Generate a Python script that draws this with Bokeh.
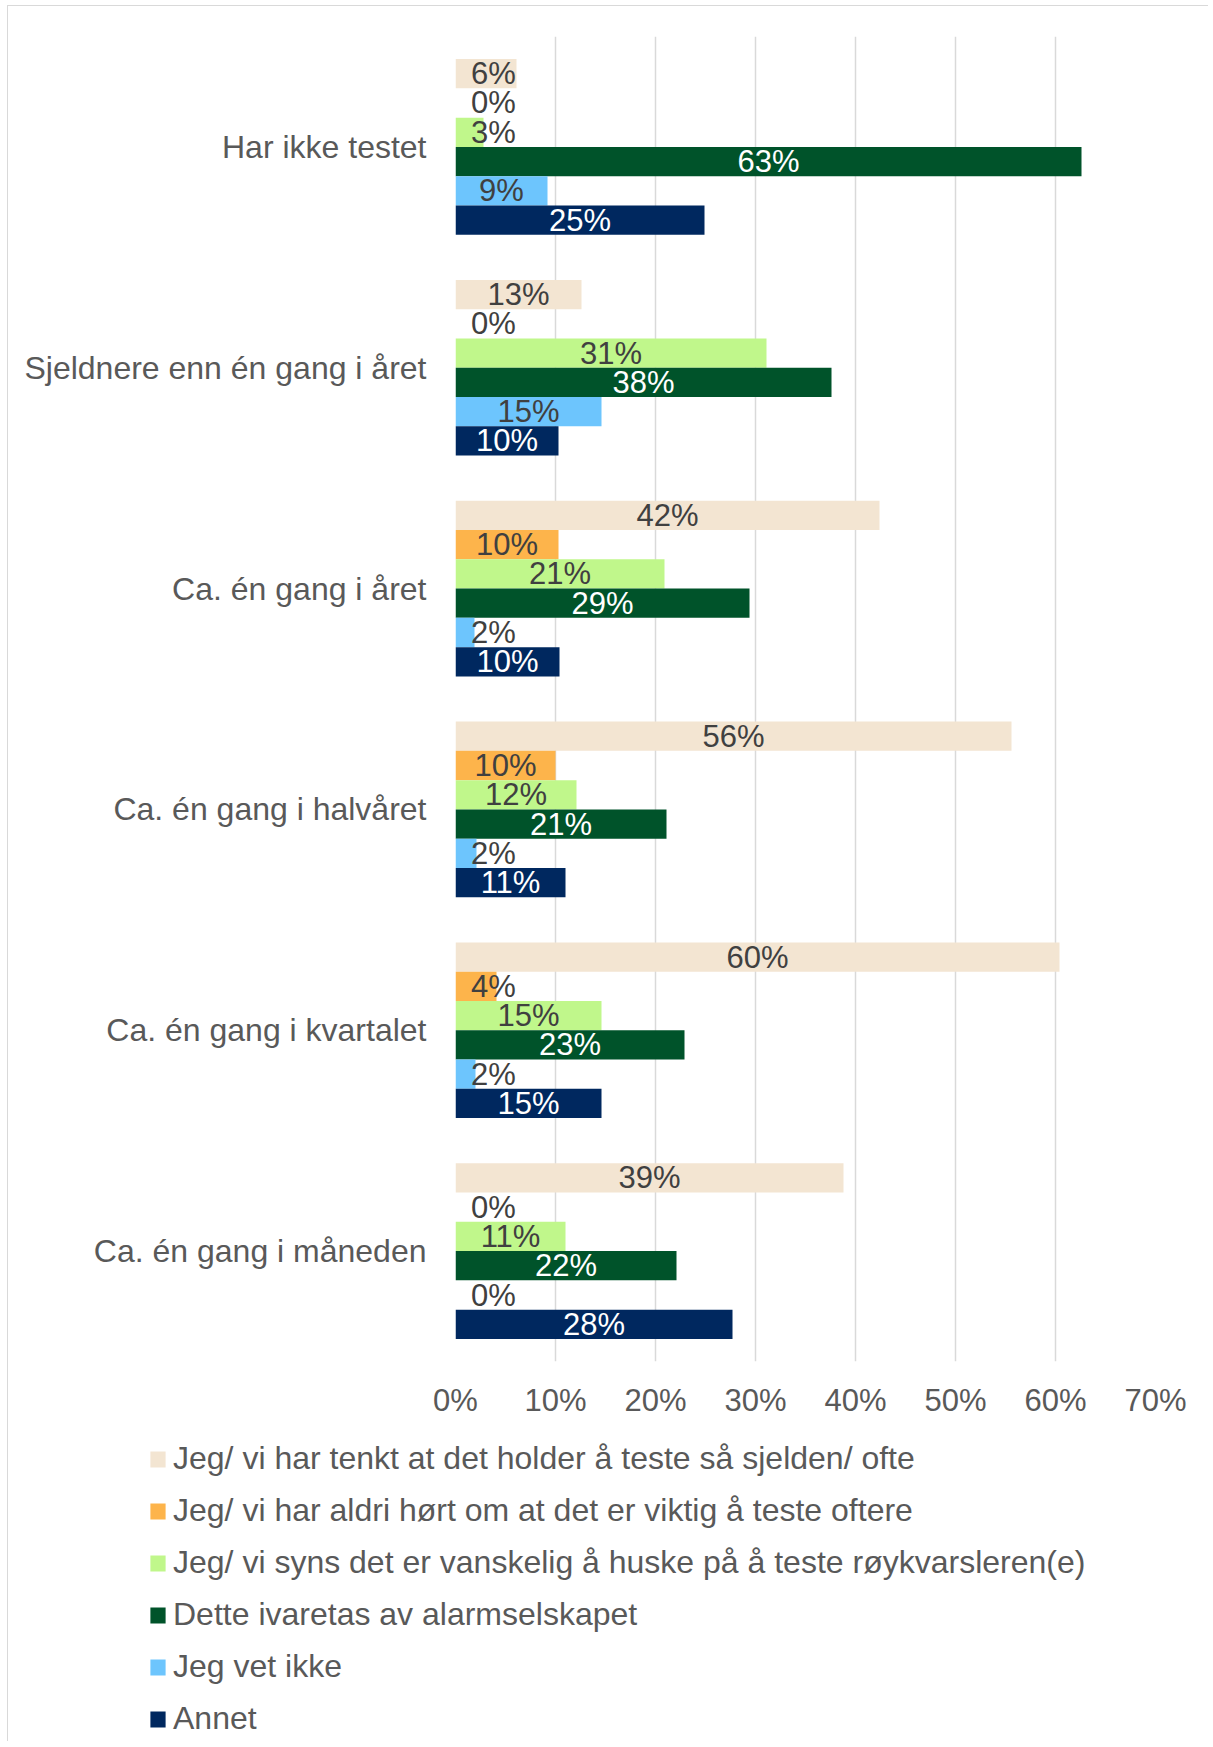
from bokeh.plotting import figure
from bokeh.layouts import column
from bokeh.models import (Range1d, FactorRange, ColumnDataSource, Legend, LegendItem,
                          FixedTicker, NumeralTickFormatter)
from bokeh.transform import dodge
from bokeh.embed import file_html
from bokeh.resources import INLINE
from bokeh.core.properties import value

# ---------------- data ----------------
categories = ["Har ikke testet", "Sjeldnere enn én gang i året", "Ca. én gang i året",
              "Ca. én gang i halvåret", "Ca. én gang i kvartalet", "Ca. én gang i måneden"]

series_names = [
    "Jeg/ vi har tenkt at det holder å teste så sjelden/ ofte",
    "Jeg/ vi har aldri hørt om at det er viktig å teste oftere",
    "Jeg/ vi syns det er vanskelig å huske på å teste røykvarsleren(e)",
    "Dette ivaretas av alarmselskapet",
    "Jeg vet ikke",
    "Annet",
]

s_tenkt   = [0.061, 0.126, 0.424, 0.556, 0.604, 0.388]
s_aldri   = [0.000, 0.000, 0.103, 0.100, 0.041, 0.000]
s_huske   = [0.028, 0.311, 0.209, 0.121, 0.146, 0.110]
s_alarm   = [0.626, 0.376, 0.294, 0.211, 0.229, 0.221]
s_vetikke = [0.092, 0.146, 0.019, 0.021, 0.020, 0.000]
s_annet   = [0.249, 0.103, 0.104, 0.110, 0.146, 0.277]

series_values = [s_tenkt, s_aldri, s_huske, s_alarm, s_vetikke, s_annet]

colors = ["#F3E5D2", "#FDB44B", "#C0F78B", "#00532A", "#6DC5FD", "#00285F"]
label_colors = ["#404040", "#404040", "#404040", "#FFFFFF", "#404040", "#FFFFFF"]

x_ticks = [0.0, 0.1, 0.2, 0.3, 0.4, 0.5, 0.6, 0.7]

# ---------------- main chart ----------------
FONT = "Liberation Sans"
TXT = "#595959"

p = figure(width=1200, height=1430, output_backend="svg", toolbar_location=None,
           x_range=Range1d(0, 0.7), y_range=FactorRange(*list(reversed(categories))),
           min_border_left=447, min_border_right=53, min_border_top=30, min_border_bottom=75)
p.outline_line_color = None
p.background_fill_color = "white"
p.border_fill_color = "white"

bar_h = 0.1326
n = len(series_values)
for i, (name, vals, col, lcol) in enumerate(zip(series_names, series_values, colors, label_colors)):
    off = (n - 1) / 2 * bar_h - i * bar_h
    labels = ["%d%%" % int(v * 100 + 0.5) for v in vals]
    lx = [max(v / 2, 0.038) for v in vals]
    src = ColumnDataSource(dict(cat=categories, val=vals, label=labels, lx=lx))
    p.hbar(y=dodge("cat", off, range=p.y_range), right="val", left=0, height=bar_h,
           source=src, fill_color=col, line_color=None)
    p.text(x="lx", y=dodge("cat", off, range=p.y_range), text="label", source=src,
           text_align="center", text_baseline="middle", text_color=lcol,
           text_font=value(FONT), text_font_size="31px")

p.xaxis.ticker = FixedTicker(ticks=x_ticks)
p.xaxis.formatter = NumeralTickFormatter(format="0%")
p.xaxis.axis_line_color = None
p.xaxis.major_tick_line_color = None
p.xaxis.minor_tick_line_color = None
p.xaxis.major_tick_out = 0
p.xaxis.major_label_standoff = 21
p.xaxis.major_label_text_font = FONT
p.xaxis.major_label_text_font_size = "31px"
p.xaxis.major_label_text_color = TXT

p.yaxis.axis_line_color = None
p.yaxis.major_tick_line_color = None
p.yaxis.minor_tick_line_color = None
p.yaxis.major_tick_out = 0
p.yaxis.major_label_standoff = 29
p.yaxis.major_label_text_font = FONT
p.yaxis.major_label_text_font_size = "32px"
p.yaxis.major_label_text_color = TXT

p.ygrid.grid_line_color = None
p.xgrid.ticker = FixedTicker(ticks=x_ticks)
p.xgrid.grid_line_color = "#d9d9d9"
p.xgrid.grid_line_width = 1.5

# ---------------- legend panel ----------------
pl = figure(width=1200, height=305, output_backend="svg", toolbar_location=None,
            x_range=Range1d(0, 1), y_range=Range1d(0, 1),
            x_axis_type=None, y_axis_type=None,
            min_border_left=0, min_border_right=0, min_border_top=0, min_border_bottom=0)
pl.frame_align = False
pl.outline_line_color = None
pl.xgrid.grid_line_color = None
pl.ygrid.grid_line_color = None
pl.border_fill_color = "white"

items = []
for name, col in zip(series_names, colors):
    # one out-of-view point so the legend swatch is drawn
    r = pl.hbar(y=[-10], right=[1], left=0, height=0.1, fill_color=col, line_color=None)
    items.append(LegendItem(label=name, renderers=[r]))

legend = Legend(items=items, location=(140, 4), orientation="vertical",
                padding=0, margin=0, spacing=15,
                glyph_width=19, glyph_height=20, label_height=36, label_standoff=6,
                label_text_font=FONT, label_text_font_size="32px", label_text_color=TXT,
                border_line_color=None, background_fill_alpha=0)
pl.add_layout(legend, "center")

layout = column(p, pl, spacing=0)
layout.styles = {"border-top": "1px solid #d9d9d9", "border-left": "1px solid #d9d9d9",
                 "margin-left": "7px", "margin-top": "5px"}

open("out.html", "w").write(file_html(layout, INLINE))
